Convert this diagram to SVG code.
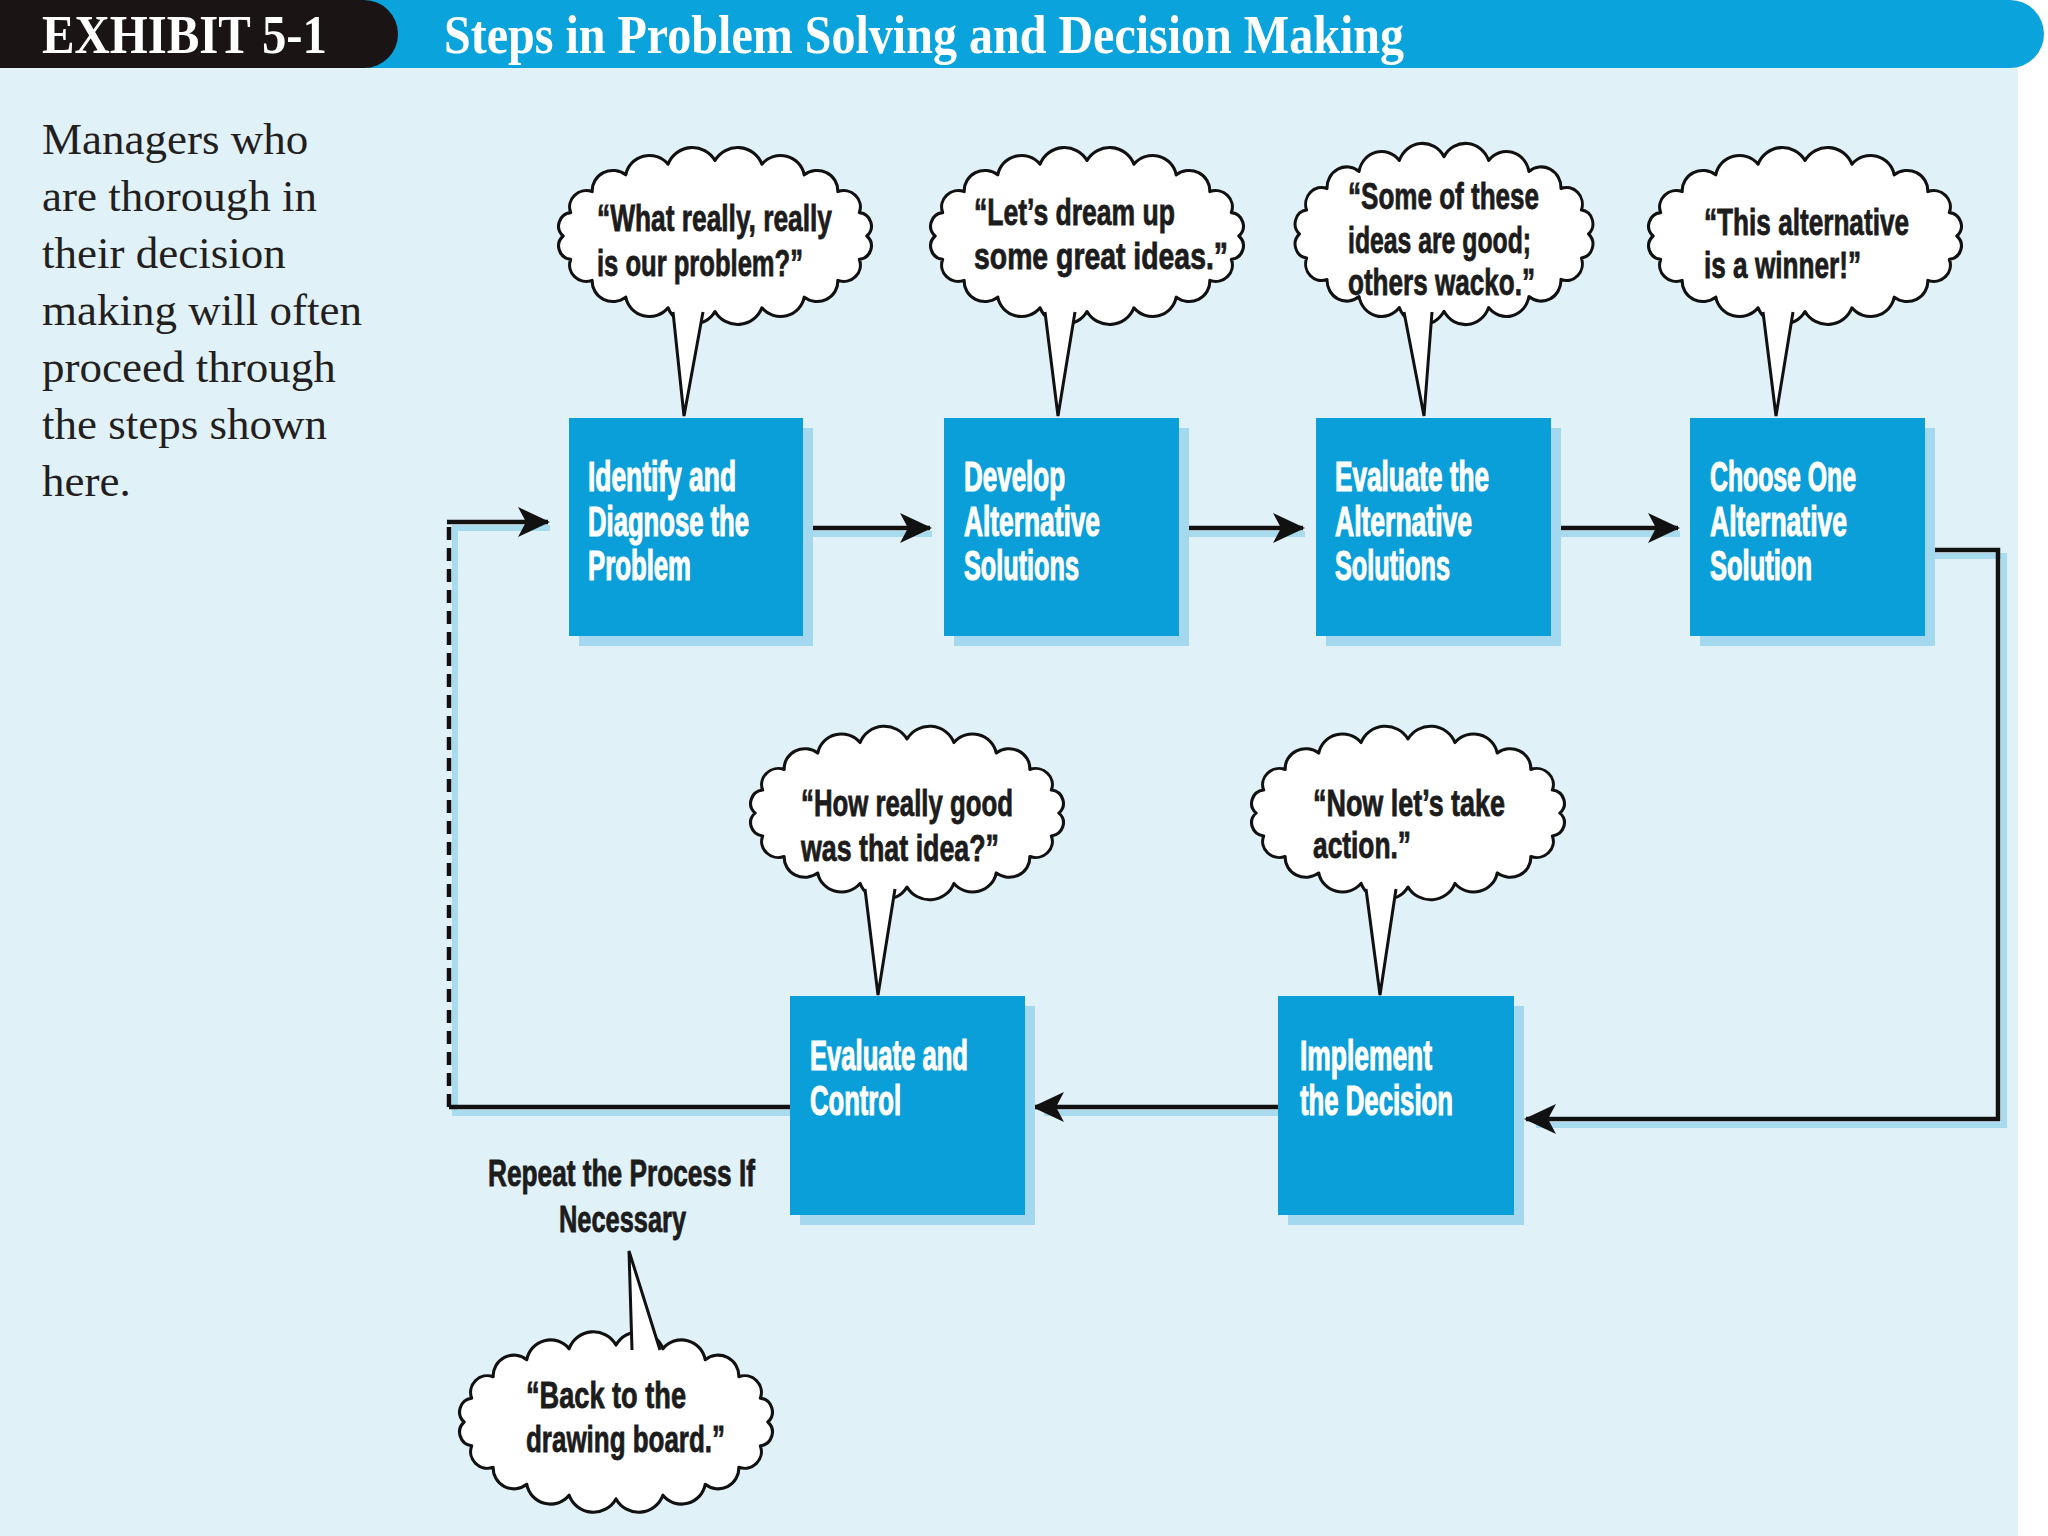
<svg xmlns="http://www.w3.org/2000/svg" width="2048" height="1536" viewBox="0 0 2048 1536">
<defs>
<style>
.bg{fill:#e0f1f8}
.box{fill:#0b9fd9}
.bshadow{fill:#a4d8ee}
.bt{font-family:"Liberation Sans",Arial,sans-serif;font-weight:bold;font-size:42px;fill:#ffffff;stroke:#ffffff;stroke-width:1.2}
.ct{font-family:"Liberation Sans",Arial,sans-serif;font-weight:bold;font-size:36px;fill:#1c1c1c;stroke:#1c1c1c;stroke-width:0.8}
.cloud{fill:#ffffff;stroke:#111111;stroke-width:3;stroke-linejoin:round}
.tail{fill:#ffffff;stroke:#111111;stroke-width:3;stroke-linejoin:miter}
.ln{fill:none;stroke:#111111;stroke-width:4.5}
.dash{stroke-dasharray:13 8}
.lns{fill:none;stroke:#a9dbef;stroke-width:6}
.para{font-family:"Liberation Serif","Times New Roman",serif;font-size:45px;fill:#231f20}
.hd{font-family:"Liberation Serif","Times New Roman",serif;font-weight:bold;font-size:54px;fill:#ffffff}
</style>
<path id="cloudShape" d="M146,0 A13.2,13.2 0 0 1 138.8,22.9 A16.1,16.1 0 0 1 118.1,43.5 A19.9,19.9 0 0 1 85.8,59.9 A23.1,23.1 0 0 1 45.1,70.4 A24.9,24.9 0 0 1 0,74 A24.9,24.9 0 0 1 -45.1,70.4 A23.1,23.1 0 0 1 -85.8,59.9 A19.9,19.9 0 0 1 -118.1,43.5 A16.1,16.1 0 0 1 -138.8,22.9 A13.2,13.2 0 0 1 -146,0 A13.2,13.2 0 0 1 -138.8,-22.9 A16.1,16.1 0 0 1 -118.1,-43.5 A19.9,19.9 0 0 1 -85.8,-59.9 A23.1,23.1 0 0 1 -45.1,-70.4 A24.9,24.9 0 0 1 0,-74 A24.9,24.9 0 0 1 45.1,-70.4 A23.1,23.1 0 0 1 85.8,-59.9 A19.9,19.9 0 0 1 118.1,-43.5 A16.1,16.1 0 0 1 138.8,-22.9 A13.2,13.2 0 0 1 146,0 Z"/>
<marker id="ah" markerUnits="userSpaceOnUse" markerWidth="32" markerHeight="30" viewBox="0 0 32 30" refX="30" refY="15" orient="auto">
<path d="M0,0 L32,15 L0,30 L8,15 Z" fill="#111111"/>
</marker>
</defs>

<rect x="0" y="0" width="2048" height="1536" fill="#ffffff"/>
<rect class="bg" x="0" y="68" width="2018" height="1468"/>

<g id="header">
<path d="M360,0 H2010 A34,34 0 0 1 2010,68 H360 Z" fill="#0aa3dc"/>
<path d="M0,0 H364 A34,34 0 0 1 364,68 H0 Z" fill="#1a1414"/>
<text class="hd" x="42" y="53" textLength="285" lengthAdjust="spacingAndGlyphs">EXHIBIT 5-1</text>
<text class="hd" x="444" y="53" textLength="960" lengthAdjust="spacingAndGlyphs">Steps in Problem Solving and Decision Making</text>
</g>

<g id="intro">
<text class="para" x="42" y="154">Managers who</text>
<text class="para" x="42" y="211">are thorough in</text>
<text class="para" x="42" y="268">their decision</text>
<text class="para" x="42" y="325">making will often</text>
<text class="para" x="42" y="382">proceed through</text>
<text class="para" x="42" y="439">the steps shown</text>
<text class="para" x="42" y="496">here.</text>
</g>

<g id="connectors">
<g transform="translate(6,6)">
<path class="lns" d="M807,528 H926"/>
<path class="lns" d="M1182,528 H1299"/>
<path class="lns" d="M1554,528 H1674"/>
<path class="lns" d="M1925,550 H1998 V1119 H1530"/>
<path class="lns" d="M1278,1107 H1038"/>
<path class="lns" d="M790,1107 H449 V522 H544"/>
</g>
<path class="ln" d="M807,528 H930" marker-end="url(#ah)"/>
<path class="ln" d="M1182,528 H1303" marker-end="url(#ah)"/>
<path class="ln" d="M1554,528 H1678" marker-end="url(#ah)"/>
<path class="ln" d="M1925,550 H1998 V1119 H1526" marker-end="url(#ah)"/>
<path class="ln" d="M1278,1107 H1034" marker-end="url(#ah)"/>
<path class="ln" d="M790,1107 H449"/>
<path class="ln dash" d="M449,1107 V522"/>
<path class="ln" d="M447,522 H548" marker-end="url(#ah)"/>
</g>

<g id="node-identify">
<rect class="bshadow" x="579" y="428" width="234" height="218"/>
<rect class="box" x="569" y="418" width="234" height="218"/>
<text class="bt" x="588" y="491" textLength="148" lengthAdjust="spacingAndGlyphs">Identify and</text>
<text class="bt" x="588" y="536" textLength="161" lengthAdjust="spacingAndGlyphs">Diagnose the</text>
<text class="bt" x="588" y="580" textLength="103" lengthAdjust="spacingAndGlyphs">Problem</text>
</g>
<g id="node-develop">
<rect class="bshadow" x="954" y="428" width="235" height="218"/>
<rect class="box" x="944" y="418" width="235" height="218"/>
<text class="bt" x="964" y="491" textLength="101" lengthAdjust="spacingAndGlyphs">Develop</text>
<text class="bt" x="964" y="536" textLength="136" lengthAdjust="spacingAndGlyphs">Alternative</text>
<text class="bt" x="964" y="580" textLength="115" lengthAdjust="spacingAndGlyphs">Solutions</text>
</g>
<g id="node-evaluate-alt">
<rect class="bshadow" x="1326" y="428" width="235" height="218"/>
<rect class="box" x="1316" y="418" width="235" height="218"/>
<text class="bt" x="1335" y="491" textLength="154" lengthAdjust="spacingAndGlyphs">Evaluate the</text>
<text class="bt" x="1335" y="536" textLength="137" lengthAdjust="spacingAndGlyphs">Alternative</text>
<text class="bt" x="1335" y="580" textLength="115" lengthAdjust="spacingAndGlyphs">Solutions</text>
</g>
<g id="node-choose">
<rect class="bshadow" x="1700" y="428" width="235" height="218"/>
<rect class="box" x="1690" y="418" width="235" height="218"/>
<text class="bt" x="1710" y="491" textLength="146" lengthAdjust="spacingAndGlyphs">Choose One</text>
<text class="bt" x="1710" y="536" textLength="137" lengthAdjust="spacingAndGlyphs">Alternative</text>
<text class="bt" x="1710" y="580" textLength="102" lengthAdjust="spacingAndGlyphs">Solution</text>
</g>
<g id="node-evaluate-control">
<rect class="bshadow" x="800" y="1006" width="235" height="219"/>
<rect class="box" x="790" y="996" width="235" height="219"/>
<text class="bt" x="810" y="1070" textLength="158" lengthAdjust="spacingAndGlyphs">Evaluate and</text>
<text class="bt" x="810" y="1115" textLength="91" lengthAdjust="spacingAndGlyphs">Control</text>
</g>
<g id="node-implement">
<rect class="bshadow" x="1288" y="1006" width="236" height="219"/>
<rect class="box" x="1278" y="996" width="236" height="219"/>
<text class="bt" x="1300" y="1070" textLength="132" lengthAdjust="spacingAndGlyphs">Implement</text>
<text class="bt" x="1300" y="1115" textLength="153" lengthAdjust="spacingAndGlyphs">the Decision</text>
</g>

<g id="bubble-1">
<use href="#cloudShape" class="cloud" transform="translate(715,236) scale(1.04,1.02)"/>
<path class="tail" d="M673,312 L684,416 L703,312"/>
<text class="ct" x="597" y="231" textLength="235" lengthAdjust="spacingAndGlyphs">“What really, really</text>
<text class="ct" x="597" y="276" textLength="206" lengthAdjust="spacingAndGlyphs">is our problem?”</text>
</g>
<g id="bubble-2">
<use href="#cloudShape" class="cloud" transform="translate(1087,236) scale(1.04,1.02)"/>
<path class="tail" d="M1045,312 L1058,416 L1075,312"/>
<text class="ct" x="974" y="225" textLength="201" lengthAdjust="spacingAndGlyphs">“Let’s dream up</text>
<text class="ct" x="974" y="269" textLength="254" lengthAdjust="spacingAndGlyphs">some great ideas.”</text>
</g>
<g id="bubble-3">
<use href="#cloudShape" class="cloud" transform="translate(1444,234) scale(0.99,1.045)"/>
<path class="tail" d="M1404,312 L1424,416 L1432,312"/>
<text class="ct" x="1348" y="209" textLength="191" lengthAdjust="spacingAndGlyphs">“Some of these</text>
<text class="ct" x="1348" y="253" textLength="183" lengthAdjust="spacingAndGlyphs">ideas are good;</text>
<text class="ct" x="1348" y="295" textLength="187" lengthAdjust="spacingAndGlyphs">others wacko.”</text>
</g>
<g id="bubble-4">
<use href="#cloudShape" class="cloud" transform="translate(1805,236) scale(1.04,1.02)"/>
<path class="tail" d="M1763,312 L1776,416 L1793,312"/>
<text class="ct" x="1704" y="235" textLength="205" lengthAdjust="spacingAndGlyphs">“This alternative</text>
<text class="ct" x="1704" y="278" textLength="157" lengthAdjust="spacingAndGlyphs">is a winner!”</text>
</g>
<g id="bubble-5">
<use href="#cloudShape" class="cloud" transform="translate(907,813) scale(1.04,1.0)"/>
<path class="tail" d="M865,889 L878,995 L895,889"/>
<text class="ct" x="801" y="816" textLength="212" lengthAdjust="spacingAndGlyphs">“How really good</text>
<text class="ct" x="801" y="861" textLength="198" lengthAdjust="spacingAndGlyphs">was that idea?”</text>
</g>
<g id="bubble-6">
<use href="#cloudShape" class="cloud" transform="translate(1408,813) scale(1.04,1.0)"/>
<path class="tail" d="M1366,889 L1380,995 L1396,889"/>
<text class="ct" x="1313" y="816" textLength="192" lengthAdjust="spacingAndGlyphs">“Now let’s take</text>
<text class="ct" x="1313" y="858" textLength="98" lengthAdjust="spacingAndGlyphs">action.”</text>
</g>

<g id="label-repeat">
<text class="ct" x="488" y="1186" textLength="267" lengthAdjust="spacingAndGlyphs">Repeat the Process If</text>
<text class="ct" x="559" y="1232" textLength="127" lengthAdjust="spacingAndGlyphs">Necessary</text>
</g>
<g id="bubble-7">
<use href="#cloudShape" class="cloud" transform="translate(616,1422) scale(1.04,1.04)"/>
<path class="tail" d="M632,1350 L629,1251 L660,1350"/>
<text class="ct" x="526" y="1408" textLength="160" lengthAdjust="spacingAndGlyphs">“Back to the</text>
<text class="ct" x="526" y="1452" textLength="199" lengthAdjust="spacingAndGlyphs">drawing board.”</text>
</g>
</svg>
